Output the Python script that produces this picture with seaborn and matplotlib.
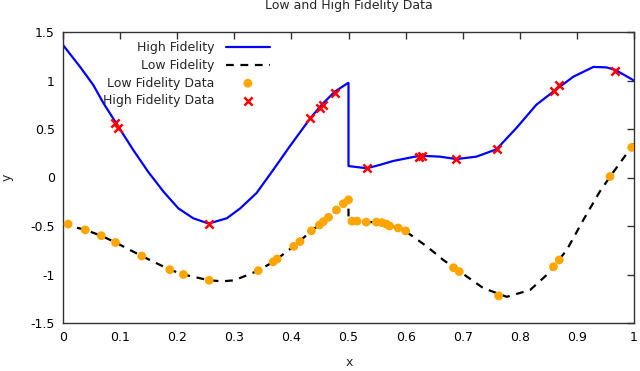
import numpy as np
import pandas as pd
import matplotlib
matplotlib.use("Agg")
import matplotlib.pyplot as plt
from matplotlib.ticker import FormatStrFormatter
import seaborn as sns

# curves, the jump at x=0.5 is kept as two points at the same x
hf_x = [0.0, 0.03, 0.053, 0.071, 0.097, 0.123, 0.149, 0.176, 0.202, 0.228, 0.255, 0.287,
        0.31, 0.339, 0.368, 0.397, 0.433, 0.453, 0.476, 0.498, 0.5, 0.5, 0.532, 0.555,
        0.578, 0.625, 0.66, 0.689, 0.724, 0.759, 0.794, 0.829, 0.862, 0.894, 0.929, 0.952,
        0.967, 1.0]
hf_y = [1.366, 1.14, 0.954, 0.765, 0.524, 0.284, 0.06, -0.146, -0.318, -0.42, -0.475, -0.42,
        -0.32, -0.16, 0.077, 0.32, 0.61, 0.75, 0.885, 0.97, 0.975, 0.118, 0.095, 0.13,
        0.17, 0.225, 0.215, 0.19, 0.215, 0.29, 0.51, 0.75, 0.90, 1.04, 1.14, 1.135,
        1.11, 1.0]

lf_x = [0.0, 0.039, 0.067, 0.092, 0.138, 0.187, 0.211, 0.256, 0.28, 0.3, 0.342, 0.368,
        0.404, 0.435, 0.456, 0.479, 0.5, 0.5, 0.531, 0.549, 0.572, 0.599, 0.637, 0.666,
        0.707, 0.736, 0.777, 0.818, 0.847, 0.882, 0.911, 0.94, 0.958, 1.0]
lf_y = [-0.48, -0.54, -0.60, -0.67, -0.81, -0.95, -1.0, -1.06, -1.07, -1.06, -0.96, -0.87,
        -0.71, -0.55, -0.455, -0.335, -0.23, -0.45, -0.46, -0.46, -0.49, -0.55, -0.71, -0.85,
        -1.02, -1.14, -1.23, -1.16, -1.005, -0.75, -0.44, -0.146, 0.008, 0.35]

# sampled data points
lfd_x = [0.009, 0.039, 0.067, 0.092, 0.138, 0.187, 0.211, 0.256, 0.342, 0.368, 0.375, 0.404,
         0.415, 0.435, 0.449, 0.456, 0.465, 0.479, 0.491, 0.5, 0.506, 0.515, 0.531, 0.549,
         0.558, 0.566, 0.572, 0.587, 0.6, 0.684, 0.694, 0.763, 0.859, 0.869, 0.958, 0.996]
lfd_y = [-0.48, -0.54, -0.60, -0.67, -0.81, -0.95, -1.00, -1.06, -0.96, -0.87, -0.84, -0.71,
         -0.66, -0.55, -0.49, -0.455, -0.41, -0.335, -0.27, -0.23, -0.45, -0.45, -0.46, -0.46,
         -0.465, -0.48, -0.50, -0.52, -0.55, -0.93, -0.97, -1.22, -0.92, -0.85, 0.01, 0.31]

hfd_x = [0.091, 0.097, 0.255, 0.433, 0.45, 0.455, 0.476, 0.533, 0.624, 0.628, 0.688, 0.76,
         0.86, 0.869, 0.966]
hfd_y = [0.56, 0.51, -0.48, 0.61, 0.72, 0.75, 0.87, 0.095, 0.215, 0.225, 0.19, 0.29,
         0.895, 0.95, 1.10]

sns.set_style("white")
plt.rcParams['font.family'] = ['DejaVu Sans']
plt.rcParams['font.size'] = 9

fig = plt.figure(figsize=(6.4, 3.71), dpi=100)
ax = fig.add_axes([63 / 640, 48 / 371, 571 / 640, 291 / 371])

sns.lineplot(x=hf_x, y=hf_y, sort=False, estimator=None, color='#0000ff', linewidth=1.6,
             label='High Fidelity', ax=ax)
sns.lineplot(x=lf_x, y=lf_y, sort=False, estimator=None, color='black', linewidth=1.6,
             label='Low Fidelity', ax=ax)
ax.lines[-1].set_dashes([3.5, 3])
sns.scatterplot(x=lfd_x, y=lfd_y, color='#ffa500', s=40, edgecolor='none',
                label='Low Fidelity Data', ax=ax, zorder=3)
sns.scatterplot(x=hfd_x, y=hfd_y, color='red', marker='x', s=35, linewidth=1.8,
                label='High Fidelity Data', ax=ax, zorder=4)

ax.set_xlim(0, 1)
ax.set_ylim(-1.5, 1.5)
ax.set_xticks(np.arange(0, 1.01, 0.1))
ax.set_yticks(np.arange(-1.5, 1.51, 0.5))
ax.xaxis.set_major_formatter(FormatStrFormatter('%g'))
ax.yaxis.set_major_formatter(FormatStrFormatter('%g'))
ax.tick_params(direction='in', length=5, width=1, top=True, right=True, colors='#333333',
               labelcolor='black', labelsize=9, pad=6)
for sp in ax.spines.values():
    sp.set_color('#333333')
    sp.set_linewidth(1)

ax.set_xlabel('')
ax.set_ylabel('')
fig.text(349 / 640, 1 - 363 / 371, 'x', ha='center', va='center', fontsize=9)
fig.text(7 / 640, 1 - 177 / 371, 'y', ha='center', va='center', fontsize=9, rotation=90)
fig.text(0.545, 0.985, 'Low and High Fidelity Data', ha='center', va='center', fontsize=9)

ax.legend(loc='upper right', bbox_to_anchor=(276 / 640, (371 - 35) / 371),
          bbox_transform=fig.transFigure, frameon=False, markerfirst=False,
          handlelength=3.5, handletextpad=0.9, labelspacing=0.37, borderpad=0,
          fontsize=9)

fig.savefig('out.png', dpi=100)
